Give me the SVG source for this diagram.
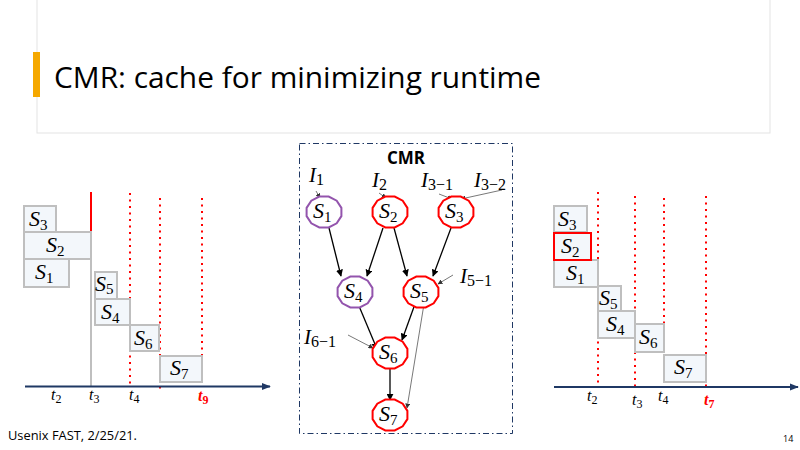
<svg xmlns="http://www.w3.org/2000/svg" width="800" height="450" viewBox="0 0 800 450">
<defs>
<style>
.box{fill:#f3f7fb;stroke:#bfbfbf;stroke-width:2}
.boxr{fill:#f3f7fb;stroke:#ff0000;stroke-width:2}
.math{font-family:"Liberation Serif","DejaVu Serif",serif;font-style:italic;fill:#000}
.s{font-size:22px}
.sub{font-size:15px;font-style:normal}
.t{font-size:16px}
.tsub{font-size:12px;font-style:normal}
.dot{stroke:#ff0000;stroke-width:2;stroke-dasharray:2 4.5;fill:none}
.axis{stroke:#1f3864;stroke-width:2;fill:none}
.edge{stroke:#000;stroke-width:1.3;fill:none}
.thin{stroke:#555;stroke-width:0.8;fill:none}
.red{fill:#fff;stroke:#ff0000;stroke-width:2}
.pur{fill:#fff;stroke:#9354ad;stroke-width:2}
.lab{font-size:21px}
.lsub{font-size:16px;font-style:normal}
</style>
<marker id="ah" viewBox="0 0 10 10" refX="9" refY="5" markerWidth="7" markerHeight="7" markerUnits="userSpaceOnUse" orient="auto"><path d="M0,0 L10,5 L0,10 z" fill="#000"/></marker>
<marker id="ahs" viewBox="0 0 10 10" refX="9" refY="5" markerWidth="5" markerHeight="5" markerUnits="userSpaceOnUse" orient="auto"><path d="M0,0 L10,5 L0,10 z" fill="#333"/></marker>
<marker id="axh" viewBox="0 0 10 10" refX="9" refY="5" markerWidth="9" markerHeight="9" markerUnits="userSpaceOnUse" orient="auto"><path d="M0,1 L10,5 L0,9 z" fill="#1f3864"/></marker>
<polygon id="oct" points="17.4,4.1 12.7,11.3 4.7,15.5 -4.7,15.5 -12.7,11.3 -17.4,4.1 -17.4,-4.1 -12.7,-11.3 -4.7,-15.5 4.7,-15.5 12.7,-11.3 17.4,-4.1"/>
</defs>
<rect width="800" height="450" fill="#fff"/>

<g id="title">
<rect x="37" y="-1" width="733" height="134" fill="#fff" stroke="#e3e3e3" stroke-width="1"/>
<rect x="33" y="52" width="7" height="45" fill="#f5a800"/>
<text x="54" y="88" font-family="Open Sans, Liberation Sans, sans-serif" font-size="29" fill="#000" textLength="487" lengthAdjust="spacingAndGlyphs">CMR: cache for minimizing runtime</text>
</g>

<!-- Left timeline -->
<g id="left-panel">
<line x1="91" y1="192" x2="91" y2="232" stroke="#ff0000" stroke-width="2"/>
<line x1="91" y1="232" x2="91" y2="386" stroke="#bfbfbf" stroke-width="2"/>
<line class="dot" x1="130" y1="193" x2="130" y2="386"/>
<line class="dot" x1="160" y1="198" x2="160" y2="393"/>
<line class="dot" x1="202" y1="198" x2="202" y2="386"/>
<g id="L-S3"><rect class="box" x="24" y="206" width="32" height="26"/><text class="math s" x="29" y="226">S<tspan class="sub" dy="4">3</tspan></text></g>
<g id="L-S2"><rect class="box" x="24" y="232" width="67" height="27"/><text class="math s" x="46" y="252">S<tspan class="sub" dy="4">2</tspan></text></g>
<g id="L-S1"><rect class="box" x="24" y="259" width="45" height="28"/><text class="math s" x="35" y="279">S<tspan class="sub" dy="4">1</tspan></text></g>
<g id="L-S5"><rect class="box" x="95" y="272" width="22" height="27"/><text class="math s" x="95" y="291">S<tspan class="sub" dy="3">5</tspan></text></g>
<g id="L-S4"><rect class="box" x="95" y="299" width="35" height="26"/><text class="math s" x="101" y="319">S<tspan class="sub" dy="4">4</tspan></text></g>
<g id="L-S6"><rect class="box" x="130" y="325" width="29" height="26"/><text class="math s" x="134" y="345">S<tspan class="sub" dy="4">6</tspan></text></g>
<g id="L-S7"><rect class="box" x="160" y="356" width="42" height="26"/><text class="math s" x="170" y="375">S<tspan class="sub" dy="4">7</tspan></text></g>
<line class="axis" x1="25" y1="386.5" x2="270" y2="386.5" marker-end="url(#axh)"/>
<text class="math t" x="51" y="400">t<tspan class="tsub" dy="3">2</tspan></text>
<text class="math t" x="89" y="400">t<tspan class="tsub" dy="3">3</tspan></text>
<text class="math t" x="129" y="400">t<tspan class="tsub" dy="3">4</tspan></text>
<text class="math t" x="198" y="401" style="fill:#ff0000;font-weight:bold">t<tspan class="tsub" dy="3">9</tspan></text>
</g>

<!-- Middle DAG -->
<g id="cmr-frame">
<rect x="299.5" y="143.5" width="213" height="290" fill="none" stroke="#1f3864" stroke-width="1" stroke-dasharray="6 3 1.5 3"/>
<text x="406" y="164" text-anchor="middle" font-family="Open Sans, Liberation Sans, sans-serif" font-weight="bold" font-size="17" fill="#000">CMR</text>
</g>

<g id="connectors">
<line class="edge" x1="329" y1="228" x2="341" y2="276" marker-end="url(#ah)"/>
<line class="edge" x1="383" y1="228" x2="367" y2="276" marker-end="url(#ah)"/>
<line class="edge" x1="394" y1="228" x2="407" y2="276" marker-end="url(#ah)"/>
<line class="edge" x1="451" y1="228" x2="433" y2="276" marker-end="url(#ah)"/>
<line class="edge" x1="359" y1="306" x2="377" y2="349" marker-end="url(#ah)"/>
<line class="edge" x1="415" y1="304" x2="402" y2="340" marker-end="url(#ah)"/>
<line class="edge" x1="390" y1="368" x2="390" y2="400" marker-end="url(#ah)"/>
<line class="thin" x1="424" y1="304" x2="407" y2="408" marker-end="url(#ahs)"/>
<line class="thin" x1="316" y1="191" x2="320" y2="198" marker-end="url(#ahs)"/>
<line class="thin" x1="379" y1="193" x2="386" y2="198" marker-end="url(#ahs)"/>
<line class="thin" x1="439" y1="194" x2="452" y2="199" marker-end="url(#ahs)"/>
<line class="thin" x1="502" y1="190" x2="461" y2="199" marker-end="url(#ahs)"/>
<line class="thin" x1="453" y1="275" x2="438" y2="284" marker-end="url(#ahs)"/>
<line class="thin" x1="348" y1="335" x2="373" y2="348" marker-end="url(#ahs)"/>
</g>

<g id="I-labels">
<text class="math lab" x="309" y="182">I<tspan class="lsub" dy="3">1</tspan></text>
<text class="math lab" x="372" y="187">I<tspan class="lsub" dy="3">2</tspan></text>
<text class="math lab" x="421" y="187">I<tspan class="lsub" dy="3">3−1</tspan></text>
<text class="math lab" x="474" y="187">I<tspan class="lsub" dy="3">3−2</tspan></text>
<text class="math lab" x="460" y="283">I<tspan class="lsub" dy="3">5−1</tspan></text>
<text class="math lab" x="304" y="344">I<tspan class="lsub" dy="3">6−1</tspan></text>
</g>

<g id="node-S1" transform="translate(324,212)"><use href="#oct" class="pur"/><text class="math s" x="-11" y="6">S<tspan class="sub" dy="4">1</tspan></text></g>
<g id="node-S2" transform="translate(390,212)"><use href="#oct" class="red"/><text class="math s" x="-11" y="6">S<tspan class="sub" dy="4">2</tspan></text></g>
<g id="node-S3" transform="translate(456,212)"><use href="#oct" class="red"/><text class="math s" x="-11" y="6">S<tspan class="sub" dy="4">3</tspan></text></g>
<g id="node-S4" transform="translate(355,292)"><use href="#oct" class="pur"/><text class="math s" x="-11" y="6">S<tspan class="sub" dy="4">4</tspan></text></g>
<g id="node-S5" transform="translate(421,292)"><use href="#oct" class="red"/><text class="math s" x="-11" y="6">S<tspan class="sub" dy="4">5</tspan></text></g>
<g id="node-S6" transform="translate(390,353)"><use href="#oct" class="red"/><text class="math s" x="-11" y="6">S<tspan class="sub" dy="4">6</tspan></text></g>
<g id="node-S7" transform="translate(390,415)"><use href="#oct" class="red"/><text class="math s" x="-11" y="6">S<tspan class="sub" dy="4">7</tspan></text></g>

<!-- Right timeline -->
<g id="right-panel">
<line class="dot" x1="598" y1="192" x2="598" y2="388"/>
<line class="dot" x1="635" y1="196" x2="635" y2="388"/>
<line class="dot" x1="664" y1="198" x2="664" y2="388"/>
<line class="dot" x1="706" y1="196" x2="706" y2="388"/>
<g id="R-S3"><rect class="box" x="554" y="206" width="33" height="26"/><text class="math s" x="558" y="226">S<tspan class="sub" dy="4">3</tspan></text></g>
<g id="R-S1"><rect class="box" x="554" y="260" width="44" height="27"/><text class="math s" x="566" y="280">S<tspan class="sub" dy="4">1</tspan></text></g>
<g id="R-S2"><rect class="boxr" x="554" y="233" width="37" height="27"/><text class="math s" x="561" y="253">S<tspan class="sub" dy="4">2</tspan></text></g>
<g id="R-S5"><rect class="box" x="598" y="286" width="23" height="25"/><text class="math s" x="599" y="305">S<tspan class="sub" dy="4">5</tspan></text></g>
<g id="R-S4"><rect class="box" x="598" y="311" width="37" height="27"/><text class="math s" x="606" y="331">S<tspan class="sub" dy="4">4</tspan></text></g>
<g id="R-S6"><rect class="box" x="635" y="324" width="29" height="28"/><text class="math s" x="639" y="344">S<tspan class="sub" dy="4">6</tspan></text></g>
<g id="R-S7"><rect class="box" x="664" y="355" width="42" height="27"/><text class="math s" x="674" y="374">S<tspan class="sub" dy="4">7</tspan></text></g>
<line class="axis" x1="554" y1="387" x2="798" y2="387" marker-end="url(#axh)"/>
<text class="math t" x="587" y="401">t<tspan class="tsub" dy="3">2</tspan></text>
<text class="math t" x="632" y="405">t<tspan class="tsub" dy="3">3</tspan></text>
<text class="math t" x="658" y="401">t<tspan class="tsub" dy="3">4</tspan></text>
<text class="math t" x="704" y="405" style="fill:#ff0000;font-weight:bold">t<tspan class="tsub" dy="3">7</tspan></text>
</g>

<g id="footer">
<text x="8" y="440" font-family="Open Sans, Liberation Sans, sans-serif" font-size="13" fill="#000" textLength="129" lengthAdjust="spacingAndGlyphs">Usenix FAST, 2/25/21.</text>
<text x="783" y="442" font-family="Open Sans, Liberation Sans, sans-serif" font-size="9" fill="#000">14</text>
</g>
</svg>
